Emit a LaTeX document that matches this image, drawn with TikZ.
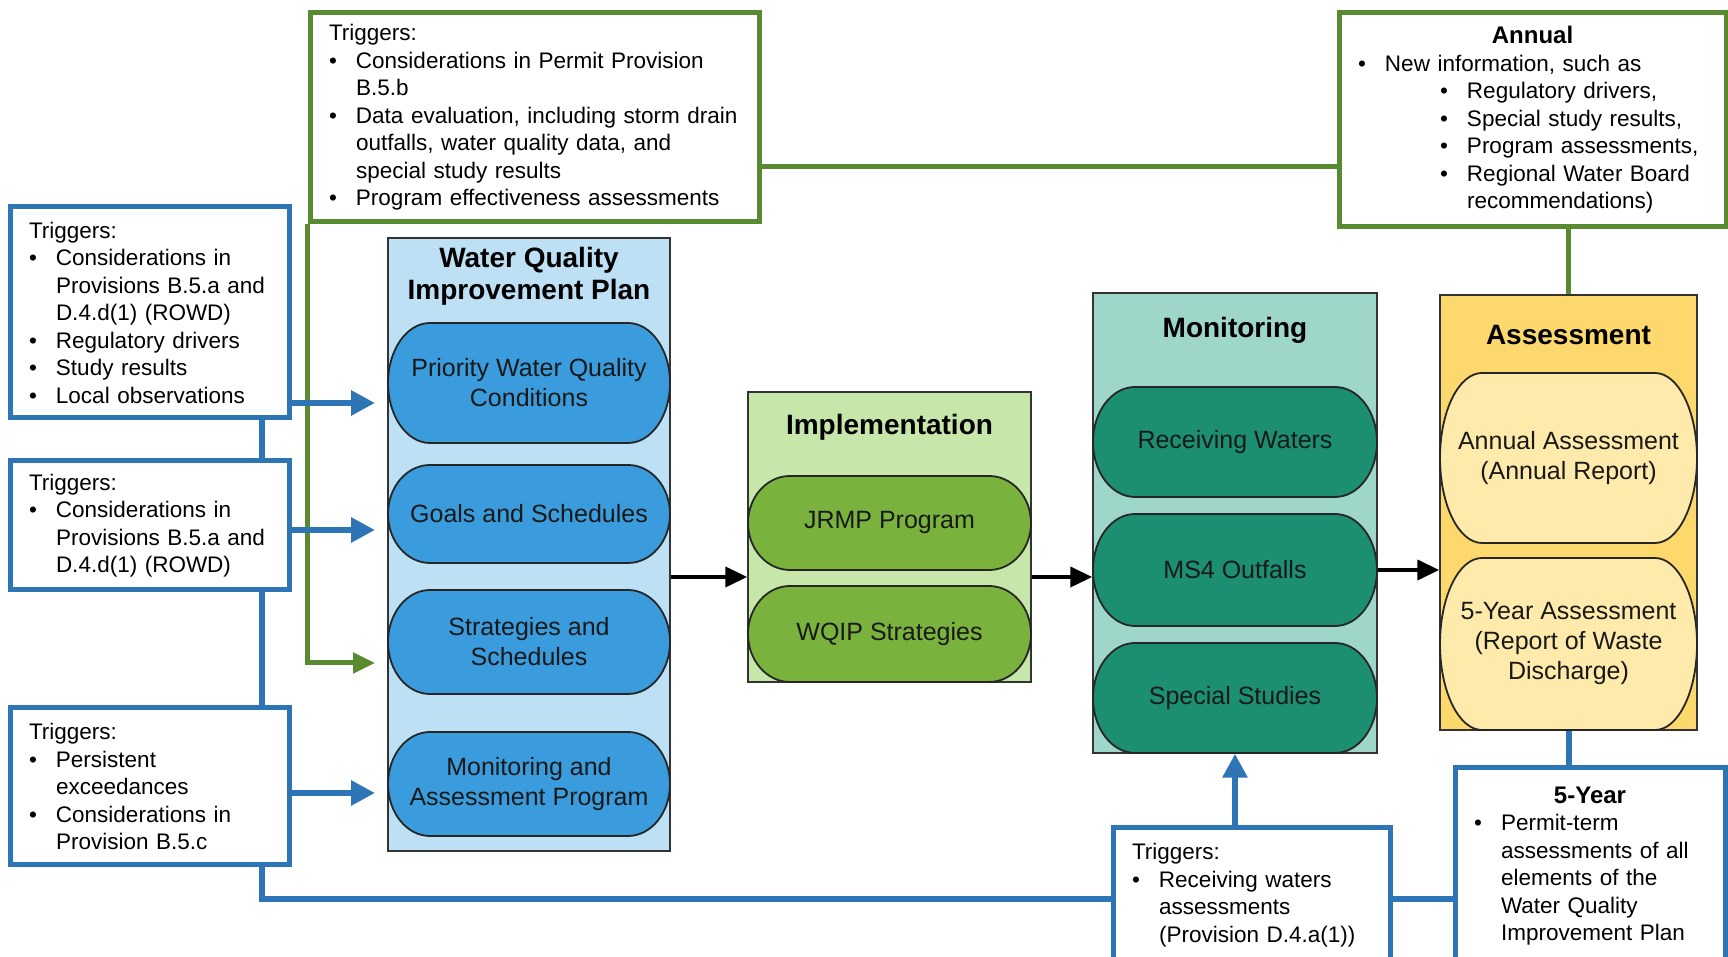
\documentclass[tikz,border=0pt]{standalone}
\usepackage{fontspec}
\setmainfont{Liberation Sans}
\usetikzlibrary{arrows.meta}

\definecolor{trigblue}{RGB}{46,117,182}
\definecolor{triggreen}{RGB}{88,138,48}
\definecolor{wqipbg}{RGB}{190,224,245}
\definecolor{wqipfill}{RGB}{58,156,220}
\definecolor{implbg}{RGB}{199,231,170}
\definecolor{implfill}{RGB}{122,178,62}
\definecolor{monbg}{RGB}{158,214,202}
\definecolor{monfill}{RGB}{28,142,113}
\definecolor{asmtbg}{RGB}{253,216,108}
\definecolor{asmtfill}{RGB}{254,235,172}

\newcommand{\trigsize}{\fontsize{22.5}{27.5}\selectfont}
\newcommand{\pillsize}{\fontsize{25}{30}\selectfont}
\newcommand{\headsize}{\fontsize{28}{32}\selectfont\bfseries}
\newcommand{\bul}[1]{\makebox[27pt][l]{\textbullet}\mbox{#1}}
\newcommand{\ind}[1]{\hspace*{27pt}\mbox{#1}}
\newcommand{\subbul}[1]{\hspace*{82pt}\makebox[27pt][l]{\textbullet}\mbox{#1}}
\newcommand{\subind}[1]{\hspace*{109pt}\mbox{#1}}
\newcommand{\boxhead}[1]{\makebox[\hsize][c]{\fontsize{24}{27.5}\selectfont\bfseries #1}}

% rounded pill: name, left, top, right, bottom, fill, text
\newcommand{\pillr}{42}
\newcommand{\pill}[7]{%
  \draw[pillline, fill=#6] (#2+\pillr,#3) -- (#4-\pillr,#3)
    arc[start angle=90, end angle=-90, x radius=\pillr, y radius={(#3-#5)/2}]
    -- (#2+\pillr,#5)
    arc[start angle=270, end angle=90, x radius=\pillr, y radius={(#3-#5)/2}] -- cycle;
  \node[pilltext] (#1) at ({(#2+#4)/2},{(#3+#5)/2}) {#7};
}

\begin{document}
\begin{tikzpicture}[x=1pt, y=1pt,
    trig/.style={draw=trigblue, line width=5pt, fill=white, inner sep=0pt, align=left, font=\trigsize},
    gtrig/.style={trig, draw=triggreen},
    panel/.style={draw=black!80, line width=1.5pt, inner sep=0pt},
    pillline/.style={draw=black!85, line width=1.8pt},
    pilltext/.style={align=center, font=\pillsize, inner sep=0pt, text=black!90},
    head/.style={align=center, font=\headsize, inner sep=0pt},
    flow/.style={line width=4pt, -{Triangle[length=22pt,width=20pt]}},
    bline/.style={draw=trigblue, line width=6pt},
    barrow/.style={bline, -{Triangle[length=24pt,width=24pt]}},
    gline/.style={draw=triggreen, line width=5pt},
    garrow/.style={gline, -{Triangle[length=22pt,width=20pt]}}]

\useasboundingbox (0,0) rectangle (1728,957);
\clip (0,0) rectangle (1728,957);

% Panels
\node[panel, fill=wqipbg, minimum width=282pt, minimum height=613pt] (wqip) at (529,412.5) {};
\node[panel, fill=implbg, minimum width=283pt, minimum height=290pt] (impl) at (889.5,420) {};
\node[panel, fill=monbg, minimum width=284pt, minimum height=460pt] (mon) at (1235,434) {};
\node[panel, fill=asmtbg, minimum width=257pt, minimum height=435pt] (asmt) at (1568.5,444.5) {};

\node[head] (wqipT) at (529,681) {Water Quality\\Improvement Plan};
\node[head] (implT) at (889.5,530) {Implementation};
\node[head] (monT) at (1235,627) {Monitoring};
\node[head] (asmtT) at (1568.5,622) {Assessment};

\pill{prio}{388}{634}{670}{514}{wqipfill}{Priority Water Quality\\Conditions}
\pill{goals}{388}{492}{670}{394}{wqipfill}{Goals and Schedules}
\pill{strat}{388}{367}{670}{263}{wqipfill}{Strategies and\\Schedules}
\pill{mapr}{388}{225}{670}{121}{wqipfill}{Monitoring and\\Assessment Program}

\pill{jrmp}{748}{481}{1031}{387}{implfill}{JRMP Program}
\pill{wqips}{748}{371}{1031}{275}{implfill}{WQIP Strategies}

\pill{rw}{1093}{570}{1377}{460}{monfill}{Receiving Waters}
\pill{ms4}{1093}{443}{1377}{331}{monfill}{MS4 Outfalls}
\pill{ss}{1093}{314}{1377}{204}{monfill}{Special Studies}

\pill{aa}{1440}{584}{1697}{414}{asmtfill}{Annual Assessment\\(Annual Report)}
\pill{fya}{1440}{399}{1697}{227}{asmtfill}{5-Year Assessment\\(Report of Waste\\Discharge)}

% Trigger boxes
\node[trig, minimum width=279pt, minimum height=211pt, text width=241pt] (b1) at (149.5,644.5) {%
  Triggers:\\
  \bul{Considerations in}\\
  \ind{Provisions B.5.a and}\\
  \ind{D.4.d(1) (ROWD)}\\
  \bul{Regulatory drivers}\\
  \bul{Study results}\\
  \bul{Local observations}};
\node[trig, minimum width=279pt, minimum height=129pt, text width=241pt] (b2) at (149.5,431.5) {%
  Triggers:\\
  \bul{Considerations in}\\
  \ind{Provisions B.5.a and}\\
  \ind{D.4.d(1) (ROWD)}};
\node[trig, minimum width=279pt, minimum height=157pt, text width=241pt] (b3) at (149.5,170.5) {%
  Triggers:\\
  \bul{Persistent}\\
  \ind{exceedances}\\
  \bul{Considerations in}\\
  \ind{Provision B.5.c}};
\node[gtrig, minimum width=449pt, minimum height=209pt, text width=411pt] (trigP) at (534.5,839.5) {%
  Triggers:\\
  \bul{Considerations in Permit Provision}\\
  \ind{B.5.b}\\
  \bul{Data evaluation, including storm drain}\\
  \ind{outfalls, water quality data, and}\\
  \ind{special study results}\\
  \bul{Program effectiveness assessments}};
\node[gtrig, minimum width=387pt, minimum height=214pt, text width=349pt] (annual) at (1532.5,837) {%
  \boxhead{Annual}\\
  \bul{New information, such as}\\
  \subbul{Regulatory drivers,}\\
  \subbul{Special study results,}\\
  \subbul{Program assessments,}\\
  \subbul{Regional Water Board}\\
  \subind{recommendations)}};
\node[trig, minimum width=277pt, minimum height=134pt, text width=239pt] (trigRW) at (1251.5,62) {%
  Triggers:\\
  \bul{Receiving waters}\\
  \ind{assessments}\\
  \ind{(Provision D.4.a(1))}};
\node[trig, minimum width=270pt, minimum height=196pt, text width=232pt] (fiveyr) at (1590,91) {%
  \boxhead{5-Year}\\
  \bul{Permit-term}\\
  \ind{assessments of all}\\
  \ind{elements of the}\\
  \ind{Water Quality}\\
  \ind{Improvement Plan}};

% Main flow
\coordinate (flowy) at (0,380);
\draw[flow] (wqip.east |- flowy) -- (impl.west |- flowy);
\draw[flow] (impl.east |- flowy) -- (mon.west |- flowy);
\draw[flow] (mon.east |- ms4) -- (asmt.west |- ms4);

% Green links
\coordinate (gy) at (0,790);
\coordinate (gin) at (375,294);
\draw[gline] (trigP.east |- gy) -- (annual.west |- gy);
\draw[gline] (asmt.north |- annual.south) -- (asmt.north);
\draw[garrow] (trigP.south west) |- (gin);

% Blue links
\coordinate (tr) at (262,58);
\coordinate (bin1) at (375,554);
\coordinate (bin2) at (375,427);
\coordinate (bin3) at (375,164);
\draw[bline] (b1.south -| tr) -- (b2.north -| tr);
\draw[bline] (b2.south -| tr) -- (b3.north -| tr);
\draw[bline] (b3.south -| tr) -- (tr) -- (trigRW.west |- tr);
\draw[bline] (trigRW.east |- tr) -- (fiveyr.west |- tr);
\draw[barrow] (b1.east |- bin1) -- (bin1);
\draw[barrow] (b2.east |- bin2) -- (bin2);
\draw[barrow] (b3.east |- bin3) -- (bin3);
\draw[barrow] (mon.south |- trigRW.north) -- (mon.south);
\draw[bline] (asmt.south) -- (asmt.south |- fiveyr.north);

\end{tikzpicture}
\end{document}
